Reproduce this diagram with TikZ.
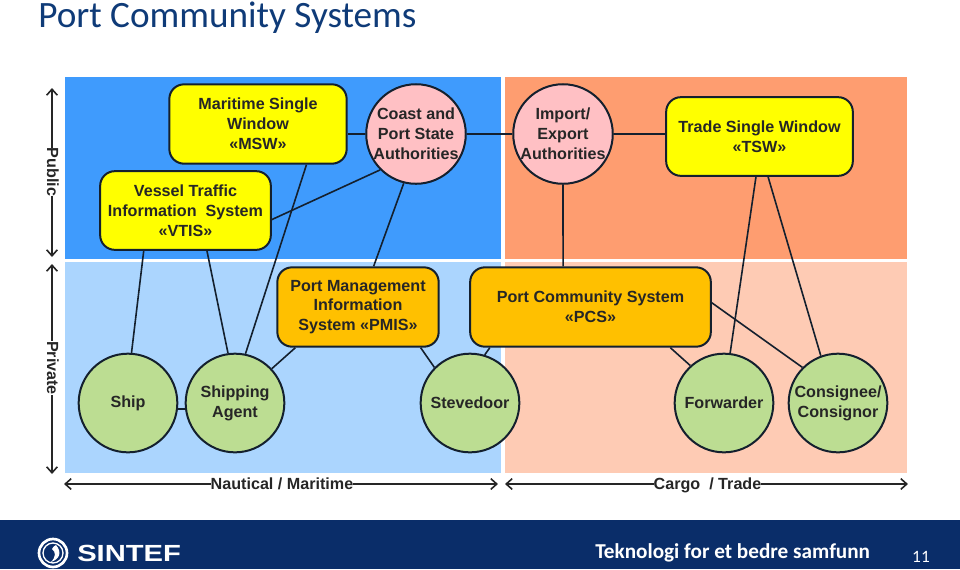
\documentclass[tikz,border=0pt]{standalone}
\usepackage{fontspec}
\setmainfont{Liberation Sans}
\newfontfamily\slidefont{Carlito}
\usetikzlibrary{arrows.meta,positioning,calc}
\definecolor{pubsea}{HTML}{3F9BFD}
\definecolor{privsea}{HTML}{ABD5FE}
\definecolor{pubcargo}{HTML}{FE9D70}
\definecolor{privcargo}{HTML}{FECBB4}
\definecolor{yellowbox}{HTML}{FFFF00}
\definecolor{amberbox}{HTML}{FFC000}
\definecolor{pinknode}{HTML}{FFC0C4}
\definecolor{greennode}{HTML}{BCDD92}
\definecolor{linkcol}{HTML}{14202E}
\definecolor{titlecol}{HTML}{0F3B78}
\definecolor{footcol}{HTML}{0A2D69}

\begin{document}
\begin{tikzpicture}[
    x=0.75pt, y=-0.75pt,
    sysbox/.style={
        draw=linkcol, line width=1.5pt, rounded corners=11pt, align=center,
        font=\fontsize{12.1}{14.9}\selectfont\bfseries, text=black!85, inner sep=0pt
    },
    actor/.style={
        draw=linkcol, line width=1.5pt, circle, minimum size=74pt, align=center,
        font=\fontsize{12.1}{14.9}\selectfont\bfseries, text=black!85, inner sep=0pt
    },
    link/.style={draw=linkcol, line width=1.2pt},
    span/.style={draw=black!85, line width=1.2pt, {Straight Barb[length=4.5pt,width=8pt]}-{Straight Barb[length=4.5pt,width=8pt]}},
    axislabel/.style={font=\fontsize{12.1}{14}\selectfont\bfseries, text=black!85, inner sep=0pt, fill=white}
]
\useasboundingbox (0,0) rectangle (960,569);

% Title
\node[font=\slidefont\fontsize{27.9}{30}\selectfont, text=titlecol, anchor=base west, inner sep=0pt] (title) at (38,27) {Port Community Systems};

% Quadrants
\fill[pubsea] (65,77) rectangle (501,259);
\fill[pubcargo] (505,77) rectangle (907,259);
\fill[privsea] (65,262) rectangle (501,473);
\fill[privcargo] (505,262) rectangle (907,473);

% Systems
\node[sysbox, fill=yellowbox, minimum width=133pt, minimum height=59.5pt] (msw) at (258,124) {Maritime Single\\Window\\«MSW»};
\node[sysbox, fill=yellowbox, minimum width=128pt, minimum height=59pt] (vtis) at (185.5,210.5) {Vessel Traffic\\Information~~System\\«VTIS»};
\node[sysbox, fill=yellowbox, minimum width=140pt, minimum height=59pt] (tsw) at (759.5,136.5) {Trade Single Window\\«TSW»};
\node[sysbox, fill=amberbox, minimum width=121pt, minimum height=59.5pt] (pmis) at (358,307) {Port Management\\Information\\System «PMIS»};
\node[sysbox, fill=amberbox, minimum width=180.5pt, minimum height=59.5pt] (pcs) at (590.5,307) {Port Community System\\«PCS»};

% Authorities
\node[actor, fill=pinknode] (coast) at (416,134) {Coast and\\Port State\\Authorities};
\node[actor, fill=pinknode] (import) at (563,134) {Import/\\Export\\Authorities};

% Private parties
\node[actor, fill=greennode] (ship) at (128,403) {Ship};
\node[actor, fill=greennode] (agent) at (235,403) {Shipping\\Agent};
\node[actor, fill=greennode] (stevedoor) at (470,403) {Stevedoor};
\node[actor, fill=greennode] (forwarder) at (724,403) {Forwarder};
\node[actor, fill=greennode] (consignee) at (838,403) {Consignee/\\Consignor};

% Links
\draw[link] (coast.west) -- (coast.west -| msw.east);
\draw[link] (coast.east) -- (import.west);
\draw[link] (import.east) -- (import.east -| tsw.west);
\draw[link] (import.south) -- (pcs.124.5);
\draw[link] (vtis.-6.3) -- (coast.225);
\draw[link] (coast.256) -- (pmis.69.4);
\draw[link] (vtis.224.3) -- (ship.86.6);
\draw[link] (vtis.298.6) -- (agent.98);
\draw[link] (msw.320.2) -- (agent.78.5);
\draw[link] (ship.-7) -- (agent.187);
\draw[link] (pmis.213.7) -- (agent.43);
\draw[link] (pmis.327.6) -- (stevedoor.135.9);
\draw[link] (pcs.202.1) -- (stevedoor.73.7);
\draw[link] (pcs.333.3) -- (forwarder.132.6);
\draw[link] (pcs.2) -- (consignee.135.8);
\draw[link] (tsw.265) -- (forwarder.83);
\draw[link] (tsw.282) -- (consignee.110);

% Axis arrows
\coordinate (pubtop) at (52,88);
\coordinate (pubend) at (52,257);
\coordinate (privtop) at (52,264);
\coordinate (privend) at (52,474);
\coordinate (seaend) at (64,484);
\coordinate (seatip) at (498,484);
\coordinate (cargoend) at (505,484);
\coordinate (cargotip) at (908,484);
\draw[span] (pubtop) -- (pubend);
\draw[span] (privtop) -- (privend);
\draw[span] (seaend) -- (seatip);
\draw[span] (cargoend) -- (cargotip);
\node[axislabel, rotate=-90, anchor=base] (public) at (47,172) {Public};
\node[axislabel, rotate=-90, anchor=base] (private) at (47,368) {Private};
\node[axislabel, anchor=base] (nautical) at (282,489) {Nautical / Maritime};
\node[axislabel, anchor=base] (cargo) at (707.5,489) {Cargo~~/ Trade};

% Footer band
\fill[footcol] (0,520) rectangle (960,569);
\node[font=\fontsize{15.9}{18}\selectfont\slidefont\bfseries, text=white, anchor=base west, inner sep=0pt] (motto) at (595,558) {Teknologi for et bedre samfunn};
\node[font=\fontsize{13}{14}\selectfont\slidefont, text=white, anchor=base, inner sep=0pt] (pageno) at (921,562) {11};

% Logo
\draw[white, line width=2pt] (53,553) circle (14);
\draw[white, line width=1pt] (53,553) circle (10);
\fill[white] (56,545) .. controls (62,552) and (60,559) .. (51,562) .. controls (56,557) and (56,552) .. (52,549) .. controls (53,547) and (54,546) .. (56,545);
\node[font=\fontsize{17.5}{18}\selectfont\bfseries, text=white, anchor=west, inner sep=0pt] (sintef) at (77,553.5) {\scalebox{1.25}[1]{SINTEF}};
\end{tikzpicture}
\end{document}
